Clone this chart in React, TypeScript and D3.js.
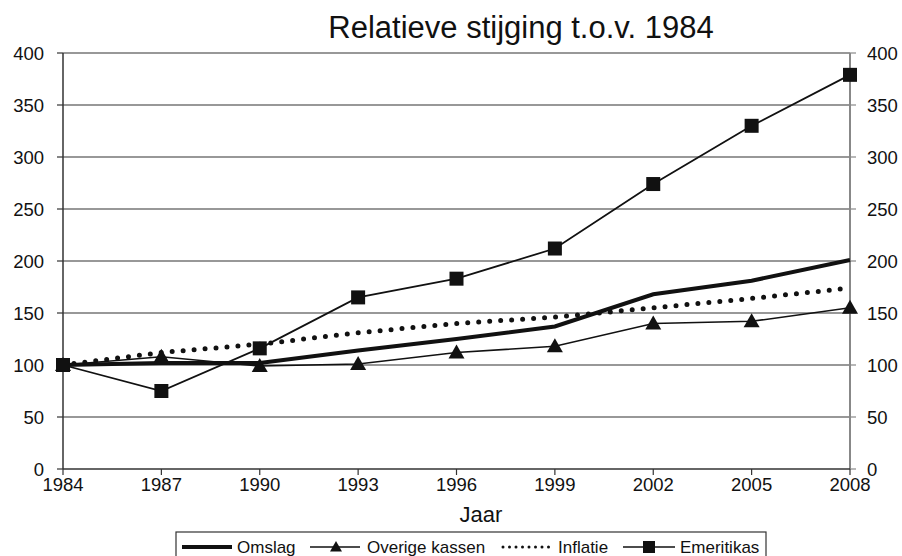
import React from "react";
import * as d3 from "d3";

const years = [1984, 1987, 1990, 1993, 1996, 1999, 2002, 2005, 2008];
const omslag = [100, 102, 102, 114, 125, 137, 168, 181, 201];
const overige = [100, 108, 99, 101, 112, 118, 140, 142, 155];
const inflatie = [100, 112, 120, 131, 140, 146, 155, 164, 174];
const emeritikas = [100, 75, 116, 165, 183, 212, 274, 330, 379];
const yTicks = [0, 50, 100, 150, 200, 250, 300, 350, 400];

const W = 902, H = 556;
const left = 63, right = 850, top = 53, bottom = 469;
const font = "'Liberation Sans', Arial, sans-serif";

export default function App() {
  const x = d3.scaleLinear().domain([1984, 2008]).range([left, right]);
  const y = d3.scaleLinear().domain([0, 400]).range([bottom, top]);
  const line = (vals: number[]) =>
    d3.line<number>().x((_, i) => x(years[i])).y((v) => y(v))(vals) || "";

  const tri = (cx: number, cy: number, s = 8) =>
    `M${cx},${cy - s} L${cx + s},${cy + s * 0.75} L${cx - s},${cy + s * 0.75} Z`;

  return (
    <svg width={W} height={H} style={{ position: "absolute", left: 0, top: 0, background: "#fff" }}>
      <rect width={W} height={H} fill="#fff" />
      <text x={521} y={38} textAnchor="middle" fontFamily={font} fontSize={31} fill="#111">
        Relatieve stijging t.o.v. 1984
      </text>
      {/* grid */}
      {yTicks.map((t) => (
        <g key={t}>
          {t > 0 && <line x1={left} x2={right} y1={y(t)} y2={y(t)} stroke="#333" strokeWidth={1.2} />}
          <line x1={left - 6} x2={left} y1={y(t)} y2={y(t)} stroke="#333" strokeWidth={1.2} />
          <line x1={right} x2={right + 6} y1={y(t)} y2={y(t)} stroke="#888" strokeWidth={1.2} />
          <text x={44} y={y(t) + 7} textAnchor="end" fontFamily={font} fontSize={18.5} fill="#111">{t}</text>
          <text x={867} y={y(t) + 7} textAnchor="start" fontFamily={font} fontSize={18.5} fill="#111">{t}</text>
        </g>
      ))}
      <line x1={left} x2={left} y1={top} y2={bottom} stroke="#333" strokeWidth={1.5} />
      <line x1={right} x2={right} y1={top} y2={bottom} stroke="#888" strokeWidth={2} />
      <line x1={left} x2={right} y1={bottom} y2={bottom} stroke="#333" strokeWidth={1.5} />
      {years.map((yr) => (
        <g key={yr}>
          <line x1={x(yr)} x2={x(yr)} y1={bottom} y2={bottom + 6} stroke="#333" strokeWidth={1.2} />
          <text x={x(yr)} y={491} textAnchor="middle" fontFamily={font} fontSize={18.5} fill="#111">{yr}</text>
        </g>
      ))}
      <text x={481} y={522} textAnchor="middle" fontFamily={font} fontSize={22} fill="#111">Jaar</text>

      {/* series */}
      <path d={line(inflatie)} fill="none" stroke="#111" strokeWidth={5} strokeLinecap="round" strokeDasharray="0 11" />
      <path d={line(overige)} fill="none" stroke="#111" strokeWidth={1.5} />
      {overige.map((v, i) => <path key={i} d={tri(x(years[i]), y(v))} fill="#111" />)}
      <path d={line(omslag)} fill="none" stroke="#111" strokeWidth={4} />
      <path d={line(emeritikas)} fill="none" stroke="#111" strokeWidth={1.8} />
      {emeritikas.map((v, i) => (
        <rect key={i} x={x(years[i]) - 7} y={y(v) - 7} width={14} height={14} fill="#111" />
      ))}

      {/* legend */}
      <rect x={176} y={532} width={590} height={40} fill="#fff" stroke="#333" strokeWidth={1.2} />
      <line x1={182} x2={232} y1={547} y2={547} stroke="#111" strokeWidth={4} />
      <text x={237} y={553} fontFamily={font} fontSize={17} fill="#111">Omslag</text>
      <line x1={310} x2={360} y1={547} y2={547} stroke="#111" strokeWidth={1.5} />
      <path d={tri(336, 547, 6)} fill="#111" />
      <text x={367} y={553} fontFamily={font} fontSize={17} fill="#111">Overige kassen</text>
      <line x1={503} x2={550} y1={547} y2={547} stroke="#111" strokeWidth={3} strokeLinecap="round" strokeDasharray="0 6.5" />
      <text x={558} y={553} fontFamily={font} fontSize={17} fill="#111">Inflatie</text>
      <line x1={623} x2={675} y1={547} y2={547} stroke="#111" strokeWidth={1.5} />
      <rect x={643} y={541} width={12} height={12} fill="#111" />
      <text x={680} y={553} fontFamily={font} fontSize={17} fill="#111">Emeritikas</text>
    </svg>
  );
}
